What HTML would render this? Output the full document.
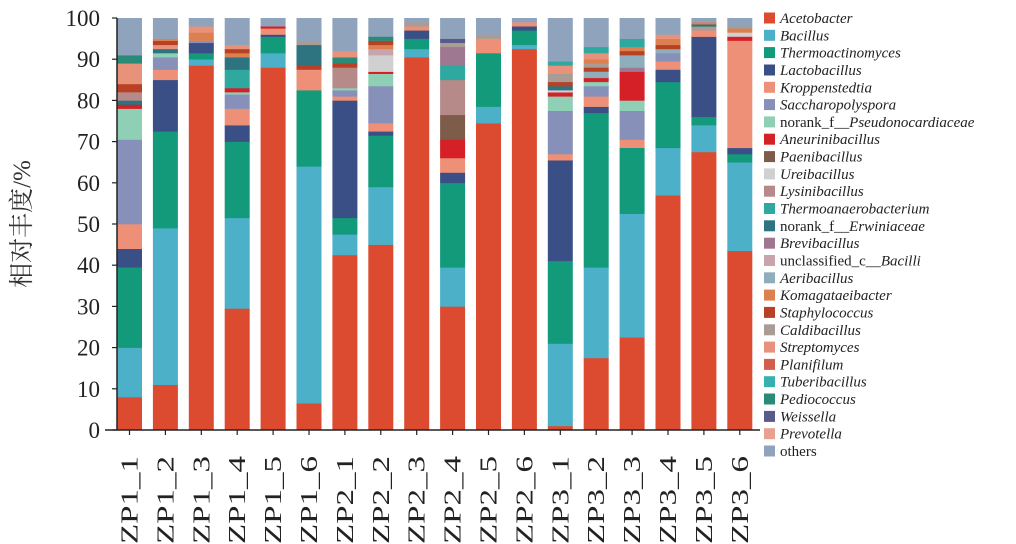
<!DOCTYPE html>
<html><head><meta charset="utf-8"><style>
html,body{margin:0;padding:0;background:#fff;}
svg{display:block;}
</style></head><body>
<svg id="s" width="1016" height="544" xmlns="http://www.w3.org/2000/svg" font-family="'Liberation Serif','Noto Serif CJK SC',serif"></svg>
<script>
const C={A:'#dc4b30',B:'#4bb0c8',T:'#129a7a',L:'#3a4f86',K:'#ee9077',S:'#8790b8',nP:'#8fcfb6',An:'#d42026',Pa:'#7d5c4a',U:'#d0d0d0',Ly:'#b58a88',Ta:'#2fa8a0',E:'#2e7380',Br:'#9e7890',uc:'#c8a4ac',Ae:'#8eaebc',Ko:'#dc8050',St:'#b84025',Ca:'#a89c94',Sr:'#e8927c',Pl:'#d0604c',Tu:'#38b0b0',Pe:'#2a8a78',W:'#5a5a8a',Pr:'#e8a090',O:'#8fa3bc'};
const bars=[
[['A',8],['B',12],['T',19.5],['L',4.5],['K',6],['S',20.5],['nP',7.5],['An',1],['E',1],['Ly',2],['St',2],['Sr',5],['Pe',2],['O',9]],
[['A',11],['B',38],['T',23.5],['L',12.5],['K',2.5],['S',3],['nP',1],['E',1],['Sr',1],['St',1],['Ko',0.5],['O',5]],
[['A',88.5],['B',1.5],['T',1.5],['L',2.5],['S',0.5],['Ko',2],['Sr',1.5],['O',2]],
[['A',29.5],['B',22],['T',18.5],['L',4],['K',4],['S',3.5],['nP',0.5],['An',1],['Ta',4.5],['E',3],['Ko',1],['St',1],['Sr',1],['O',6.5]],
[['A',88],['B',3.5],['T',4],['L',0.5],['K',1.5],['An',0.5],['O',2]],
[['A',6.5],['B',57.5],['T',18.5],['K',5],['St',1],['E',5],['Ca',1],['O',5.5]],
[['A',42.5],['B',5],['T',4],['L',28.5],['K',1],['S',1.5],['nP',0.5],['Ly',5],['St',1],['Pe',1.5],['Sr',1.5],['O',8]],
[['A',45],['B',14],['T',12.5],['L',1],['K',2],['S',9],['nP',3],['An',0.5],['U',4],['uc',1.5],['Ko',1],['St',1],['Pe',1],['O',4.5]],
[['A',90.5],['B',2],['T',2.5],['L',2],['K',1],['Ca',1],['O',1]],
[['A',30],['B',9.5],['T',20.5],['L',2.5],['K',3.5],['An',4.5],['Pa',6],['Ly',8.5],['Ta',3.5],['Br',4.5],['Ca',1],['W',1],['O',5]],
[['A',74.5],['B',4],['T',13],['K',3.5],['Ca',1],['O',4]],
[['A',92.5],['B',1],['T',3.5],['L',1],['K',1],['O',1]],
[['A',1],['B',20],['T',20],['L',24.5],['K',1.5],['S',10.5],['nP',3.5],['An',1],['U',0.5],['E',1],['St',1],['Ca',2],['Sr',2],['Ta',1],['O',10.5]],
[['A',17.5],['B',22],['T',37.5],['L',1.5],['K',2.5],['S',2.5],['nP',1],['An',1],['Ae',1.5],['St',1],['Ca',1],['Ko',1],['Sr',1.5],['Ta',1.5],['O',7]],
[['A',22.5],['B',30],['T',16],['K',2],['S',7],['nP',2.5],['An',7],['Br',1],['Ae',3],['St',1],['Ko',1],['Ta',2],['O',5]],
[['A',57],['B',11.5],['T',16],['L',3],['K',2],['S',2],['Ae',1],['St',1],['Ko',1.5],['Sr',1],['O',4]],
[['A',67.5],['B',6.5],['T',2],['L',19.5],['K',1.5],['Ca',1],['E',0.5],['Ko',0.5],['O',1]],
[['A',43.5],['B',21.5],['T',2],['L',1.5],['K',26],['An',1],['U',1],['Ko',1],['Ca',0.5],['O',2]]
];
const names=['ZP1_1','ZP1_2','ZP1_3','ZP1_4','ZP1_5','ZP1_6','ZP2_1','ZP2_2','ZP2_3','ZP2_4','ZP2_5','ZP2_6','ZP3_1','ZP3_2','ZP3_3','ZP3_4','ZP3_5','ZP3_6'];
const Y=v=>430-4.12*v;
let h='';
bars.forEach((b,i)=>{
 const cx=129.5+i*35.9;let acc=0;
 b.forEach(([k,v])=>{const y1=Y(acc),y2=Y(acc+v);h+=`<rect x="${(cx-12.5).toFixed(1)}" y="${y2.toFixed(1)}" width="25" height="${(y1-y2+0.3).toFixed(1)}" fill="${C[k]}"/>`;acc+=v;});
 h+=`<line x1="${cx}" y1="430" x2="${cx}" y2="435" stroke="#222" stroke-width="1.2"/>`;
 h+=`<text transform="translate(${cx+8},456) rotate(-90)" text-anchor="end" font-size="24" textLength="88" lengthAdjust="spacingAndGlyphs" fill="#222">${names[i]}</text>`;
});
h+=`<line x1="117" y1="18" x2="117" y2="430.5" stroke="#222" stroke-width="1.5"/><line x1="105" y1="430" x2="760" y2="430" stroke="#222" stroke-width="1.5"/>`;
for(let v=0;v<=100;v+=10){const y=Y(v);h+=`<line x1="112" y1="${y}" x2="117" y2="${y}" stroke="#222" stroke-width="1.2"/><text x="100" y="${y+8}" text-anchor="end" font-size="23" fill="#222">${v}</text>`;}
h+=`<text transform="translate(30,224) rotate(-90)" text-anchor="middle" font-size="25" fill="#333">相对丰度/%</text>`;
const leg=[['A','<tspan font-style="italic">Acetobacter</tspan>'],['B','<tspan font-style="italic">Bacillus</tspan>'],['T','<tspan font-style="italic">Thermoactinomyces</tspan>'],['L','<tspan font-style="italic">Lactobacillus</tspan>'],['K','<tspan font-style="italic">Kroppenstedtia</tspan>'],['S','<tspan font-style="italic">Saccharopolyspora</tspan>'],['nP','norank_f__<tspan font-style="italic">Pseudonocardiaceae</tspan>'],['An','<tspan font-style="italic">Aneurinibacillus</tspan>'],['Pa','<tspan font-style="italic">Paenibacillus</tspan>'],['U','<tspan font-style="italic">Ureibacillus</tspan>'],['Ly','<tspan font-style="italic">Lysinibacillus</tspan>'],['Ta','<tspan font-style="italic">Thermoanaerobacterium</tspan>'],['E','norank_f__<tspan font-style="italic">Erwiniaceae</tspan>'],['Br','<tspan font-style="italic">Brevibacillus</tspan>'],['uc','unclassified_c__<tspan font-style="italic">Bacilli</tspan>'],['Ae','<tspan font-style="italic">Aeribacillus</tspan>'],['Ko','<tspan font-style="italic">Komagataeibacter</tspan>'],['St','<tspan font-style="italic">Staphylococcus</tspan>'],['Ca','<tspan font-style="italic">Caldibacillus</tspan>'],['Sr','<tspan font-style="italic">Streptomyces</tspan>'],['Pl','<tspan font-style="italic">Planifilum</tspan>'],['Tu','<tspan font-style="italic">Tuberibacillus</tspan>'],['Pe','<tspan font-style="italic">Pediococcus</tspan>'],['W','<tspan font-style="italic">Weissella</tspan>'],['Pr','<tspan font-style="italic">Prevotella</tspan>'],['O','others']];
leg.forEach(([k,t],i)=>{const y=18+i*17.32;h+=`<rect x="764" y="${(y-5.5).toFixed(1)}" width="11" height="11" fill="${C[k]}"/><text x="780" y="${(y+5).toFixed(1)}" font-size="15" fill="#222">${t}</text>`;});
document.getElementById('s').innerHTML=h;
</script>
</body></html>
